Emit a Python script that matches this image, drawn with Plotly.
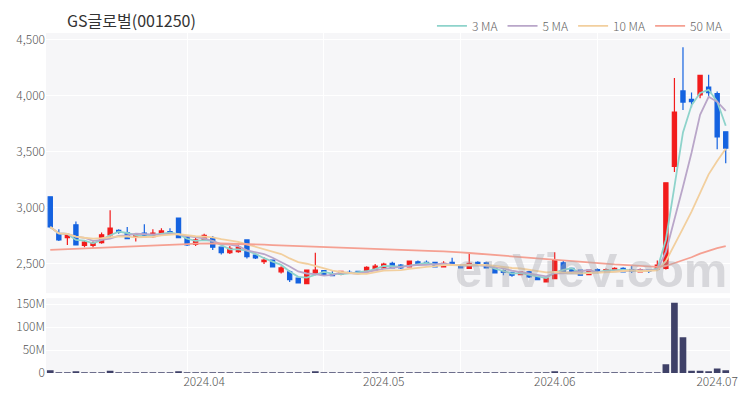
import plotly.graph_objects as go
from plotly.subplots import make_subplots
import pandas as pd

title = "GS글로벌(001250)"

dates = [
    "2024-03-06", "2024-03-07", "2024-03-08", "2024-03-11", "2024-03-12", "2024-03-13", "2024-03-14", "2024-03-15",
    "2024-03-18", "2024-03-19", "2024-03-20", "2024-03-21", "2024-03-22", "2024-03-25", "2024-03-26", "2024-03-27",
    "2024-03-28", "2024-03-29", "2024-04-01", "2024-04-02", "2024-04-03", "2024-04-04", "2024-04-05", "2024-04-08",
    "2024-04-09", "2024-04-11", "2024-04-12", "2024-04-15", "2024-04-16", "2024-04-17", "2024-04-18", "2024-04-19",
    "2024-04-22", "2024-04-23", "2024-04-24", "2024-04-25", "2024-04-26", "2024-04-29", "2024-04-30", "2024-05-02",
    "2024-05-03", "2024-05-07", "2024-05-08", "2024-05-09", "2024-05-10", "2024-05-13", "2024-05-14", "2024-05-16",
    "2024-05-17", "2024-05-20", "2024-05-21", "2024-05-22", "2024-05-23", "2024-05-24", "2024-05-27", "2024-05-28",
    "2024-05-29", "2024-05-30", "2024-05-31", "2024-06-03", "2024-06-04", "2024-06-05", "2024-06-07", "2024-06-10",
    "2024-06-11", "2024-06-12", "2024-06-13", "2024-06-14", "2024-06-17", "2024-06-18", "2024-06-19", "2024-06-20",
    "2024-06-21", "2024-06-24", "2024-06-25", "2024-06-26", "2024-06-27", "2024-06-28", "2024-07-01", "2024-07-02",
]

open_ = [3100, 2770, 2735, 2850, 2665, 2665, 2690, 2760, 2800, 2780, 2740, 2775, 2745, 2770, 2790, 2910,
         2740, 2675, 2715, 2730, 2650, 2600, 2610, 2715, 2580, 2520, 2535, 2430, 2430, 2375, 2325, 2410,
         2440, 2415, 2410, 2425, 2435, 2430, 2450, 2465, 2505, 2490, 2475, 2520, 2515, 2515, 2475, 2515,
         2490, 2460, 2515, 2510, 2470, 2440, 2425, 2405, 2430, 2385, 2340, 2370, 2510, 2460, 2445, 2405,
         2450, 2430, 2440, 2460, 2450, 2430, 2445, 2455, 2460, 3370, 4045, 3970, 4010, 4080, 4020, 3680]
high = [3105, 2810, 2765, 2880, 2705, 2700, 2780, 2980, 2810, 2830, 2770, 2855, 2810, 2820, 2820, 2910,
        2750, 2740, 2770, 2750, 2655, 2660, 2690, 2720, 2600, 2560, 2540, 2480, 2445, 2380, 2450, 2600,
        2445, 2440, 2440, 2445, 2440, 2480, 2500, 2510, 2520, 2500, 2530, 2530, 2530, 2520, 2525, 2555,
        2495, 2605, 2525, 2520, 2475, 2450, 2430, 2435, 2440, 2390, 2380, 2605, 2530, 2465, 2450, 2450,
        2460, 2460, 2470, 2470, 2490, 2460, 2450, 2530, 3225, 4160, 4435, 4030, 4185, 4190, 4040, 3680]
low = [2820, 2705, 2670, 2665, 2650, 2645, 2680, 2740, 2770, 2720, 2700, 2740, 2735, 2760, 2765, 2730,
       2660, 2660, 2705, 2625, 2585, 2590, 2600, 2550, 2545, 2500, 2470, 2415, 2340, 2325, 2320, 2400,
       2395, 2390, 2400, 2410, 2410, 2420, 2440, 2455, 2460, 2455, 2470, 2495, 2495, 2470, 2470, 2485,
       2460, 2455, 2485, 2460, 2415, 2400, 2385, 2400, 2375, 2355, 2335, 2365, 2425, 2410, 2395, 2400,
       2425, 2425, 2435, 2425, 2420, 2425, 2420, 2450, 2450, 3320, 3875, 3900, 3980, 3990, 3525, 3400]
close = [2830, 2715, 2760, 2670, 2695, 2690, 2760, 2820, 2785, 2725, 2760, 2745, 2775, 2795, 2770, 2735,
         2670, 2715, 2755, 2650, 2600, 2640, 2650, 2565, 2555, 2535, 2475, 2465, 2360, 2330, 2445, 2445,
         2400, 2395, 2435, 2420, 2415, 2470, 2480, 2500, 2465, 2465, 2525, 2500, 2505, 2475, 2505, 2490,
         2465, 2505, 2490, 2465, 2420, 2425, 2400, 2430, 2385, 2360, 2375, 2535, 2430, 2420, 2400, 2445,
         2430, 2450, 2460, 2430, 2435, 2450, 2435, 2490, 3225, 3855, 3945, 3950, 4185, 4030, 3635, 3535]
volume_m = [6, 1.5, 1.2, 2, 1, 0.8, 1, 5, 1, 0.8, 0.6, 0.8, 0.6, 0.6, 0.5, 2,
            1, 0.6, 0.7, 0.8, 0.6, 0.5, 0.5, 1.2, 0.6, 0.5, 0.6, 0.5, 0.8, 0.7, 1.5, 2.5,
            0.8, 0.5, 0.4, 0.3, 0.3, 0.5, 0.5, 0.5, 0.5, 0.3, 0.5, 0.3, 0.3, 0.3, 0.3, 0.5,
            0.4, 1.5, 0.6, 0.4, 0.5, 0.3, 0.3, 0.3, 0.4, 0.4, 0.5, 3, 1.2, 0.5, 0.4, 0.4,
            0.3, 0.3, 0.3, 0.3, 0.4, 0.3, 0.3, 1, 19, 153, 78, 5, 5, 3, 10, 6]
ma50 = [2625, 2628, 2632, 2635, 2638, 2642, 2645, 2648, 2652, 2655, 2658, 2662, 2665, 2668, 2672, 2675,
        2678, 2682, 2685, 2684, 2683, 2682, 2680, 2677, 2675, 2672, 2669, 2666, 2663, 2660, 2658, 2655,
        2651, 2647, 2643, 2640, 2636, 2632, 2628, 2626, 2624, 2622, 2620, 2618, 2616, 2614, 2612, 2610,
        2604, 2598, 2592, 2586, 2580, 2574, 2568, 2561, 2555, 2548, 2542, 2536, 2530, 2523, 2516, 2509,
        2505, 2500, 2496, 2492, 2487, 2483, 2478, 2474, 2482, 2507, 2533, 2560, 2592, 2620, 2641, 2660]

tick_dates = ["2024-04-01", "2024-05-02", "2024-06-03", "2024-07-01"]
tick_text = ["2024.04", "2024.05", "2024.06", "2024.07"]
grid_dates = ["2024-03-28", "2024-04-22", "2024-05-17", "2024-06-11"]

ma_specs = [("3 MA", 3, "#8ed3cb"), ("5 MA", 5, "#b9a6c9"), ("10 MA", 10, "#f2cf9e")]

close_s = pd.Series(close)
volume = [v * 1e6 for v in volume_m]

fig = make_subplots(rows=2, cols=1, shared_xaxes=True, vertical_spacing=0.02)

fig.add_trace(go.Candlestick(
    x=dates, open=open_, high=high, low=low, close=close,
    increasing=dict(line=dict(color="#f21c1c", width=1.2), fillcolor="#f21c1c"),
    decreasing=dict(line=dict(color="#1462e0", width=1.2), fillcolor="#1462e0"),
    whiskerwidth=0, showlegend=False, hoverinfo="skip"), row=1, col=1)

for name, n, color in ma_specs:
    fig.add_trace(go.Scatter(x=dates, y=close_s.rolling(n, min_periods=1).mean(), mode="lines",
                             name=name, line=dict(color=color, width=1.8)), row=1, col=1)
fig.add_trace(go.Scatter(x=dates, y=ma50, mode="lines", name="50 MA",
                         line=dict(color="#f5a092", width=1.8)), row=1, col=1)

fig.add_trace(go.Bar(x=dates, y=volume, marker=dict(color="#3f4168", line=dict(width=0)),
                     showlegend=False), row=2, col=1)

font_family = "Noto Sans CJK KR, Noto Sans, sans-serif"
fig.update_layout(
    width=742, height=392,
    margin=dict(l=38, r=20, t=25, b=27, autoexpand=False),
    paper_bgcolor="white", plot_bgcolor="#f6f6f8",
    font=dict(family=font_family, size=12, color="#555555", weight=300),
    bargap=0.22,
    legend=dict(orientation="h", x=0.997, xanchor="right", y=1.021, yanchor="middle",
                font=dict(size=12, color="#666666", weight=300), bgcolor="rgba(0,0,0,0)",
                itemwidth=30, tracegroupgap=0),
    annotations=[
        dict(text=title, xref="paper", yref="paper", x=0.028, y=1.038, xanchor="left",
             yanchor="middle", showarrow=False,
             font=dict(size=16, color="#333333", weight=400)),
        dict(text="enVieV.com", xref="paper", yref="paper", x=0.998, y=0.303, xanchor="right",
             yanchor="middle", showarrow=False,
             font=dict(size=49, color="rgba(170,170,175,0.4)", family="Liberation Sans", weight=700)),
    ],
)

fig.update_xaxes(type="category", tickmode="array", tickvals=tick_dates, ticktext=tick_text,
                 range=[-0.5, len(dates) - 0.5], automargin=False,
                 showgrid=False, zeroline=False, showline=False, ticks="",
                 rangeslider=dict(visible=False),
                 minor=dict(tickmode="array", tickvals=grid_dates, showgrid=True,
                            gridcolor="white", gridwidth=1, ticks=""))
fig.update_xaxes(showticklabels=False, row=1, col=1)
fig.update_xaxes(tickfont=dict(size=12, color="#555555", weight=300), row=2, col=1)

fig.update_yaxes(range=[2240, 4562], tickmode="array", tickvals=[2500, 3000, 3500, 4000, 4500],
                 tickformat=",d", gridcolor="white", zeroline=False, showline=False, automargin=False,
                 domain=[0.235, 1.0], row=1, col=1)
fig.update_yaxes(range=[0, 163e6], tickmode="array", tickvals=[0, 50e6, 100e6, 150e6],
                 tickformat="~s", gridcolor="white", zeroline=False, showline=False, automargin=False,
                 domain=[0.0, 0.22], row=2, col=1)

fig.write_html("out.html")
